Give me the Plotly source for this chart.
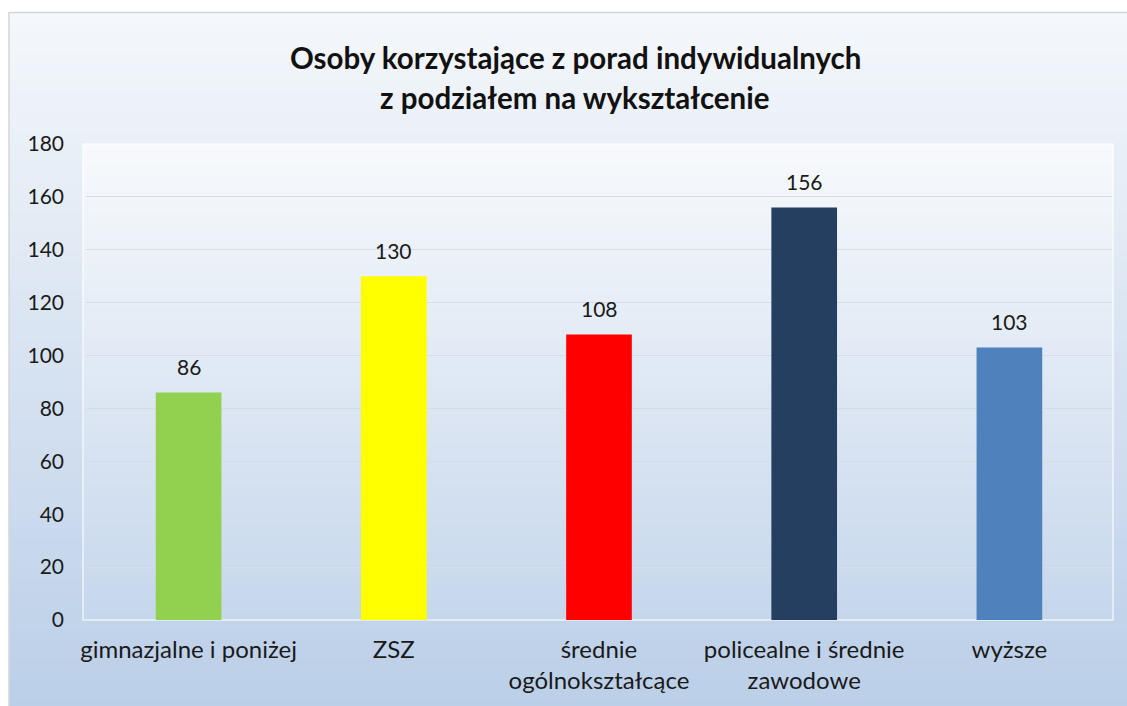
import plotly.graph_objects as go

# ---- data ----
categories = ["gimnazjalne i poniżej", "ZSZ", "średnie ogólnokształcące",
              "policealne i średnie zawodowe", "wyższe"]
category_labels = ["gimnazjalne i poniżej", "ZSZ", "średnie<br>ogólnokształcące",
                   "policealne i średnie<br>zawodowe", "wyższe"]
values = [86, 130, 108, 156, 103]
bar_colors = ["#92D050", "#FFFF00", "#FF0000", "#253F60", "#4F81BD"]
y_ticks = [0, 20, 40, 60, 80, 100, 120, 140, 160, 180]
title_lines = ["Osoby korzystające z porad indywidualnych",
               "z podziałem na wykształcenie"]

# ---- layout geometry (pixels) ----
W, H = 1127, 706
L, R, T, B = 86, 1112, 144, 622
PW, PH = R - L, B - T
FONT = "Lato"
TXT = "#1a1a1a"


def px_x(x):
    return (x - L) / PW


def px_y(y):
    return (B - y) / PH


def mix(c1, c2, t):
    return "rgb(%d,%d,%d)" % tuple(round(a + (b - a) * t) for a, b in zip(c1, c2))


def gradient(x0, x1, y0, y1, ctop, cbot, n=70):
    out = []
    for i in range(n):
        ya = y0 + (y1 - y0) * i / n
        yb = y0 + (y1 - y0) * (i + 1) / n + 1
        out.append(dict(type="rect", xref="paper", yref="paper",
                        x0=px_x(x0), x1=px_x(x1), y0=px_y(ya), y1=px_y(min(yb, y1)),
                        fillcolor=mix(ctop, cbot, i / (n - 1)),
                        line=dict(width=0), layer="below"))
    return out


shapes = []
# outer chart area gradient
shapes += gradient(9, W + 5, 12, H + 5, (244, 247, 251), (187, 207, 232))
shapes.append(dict(type="rect", xref="paper", yref="paper",
                   x0=px_x(9), x1=px_x(W + 5), y0=px_y(12), y1=px_y(H + 5),
                   line=dict(color="#D4D6D9", width=1.5), fillcolor="rgba(0,0,0,0)",
                   layer="below"))
# plot area gradient
shapes += gradient(83, R + 1, T, B, (247, 249, 252), (198, 215, 236))
shapes.append(dict(type="rect", xref="paper", yref="paper",
                   x0=px_x(83), x1=px_x(R + 1), y0=0, y1=1,
                   line=dict(color="rgba(255,255,255,0.7)", width=1.5),
                   fillcolor="rgba(0,0,0,0)", layer="below"))

fig = go.Figure()
fig.add_trace(go.Bar(
    x=categories, y=values,
    marker=dict(color=bar_colors, line=dict(width=0)),
    width=0.32, hoverinfo="x+y",
))

annotations = []
for c, v in zip(categories, values):
    annotations.append(dict(x=c, y=v, xref="x", yref="y", text=str(v),
                            showarrow=False, yshift=26,
                            font=dict(family=FONT, size=21, color=TXT)))
title_y = [57, 97]
for line, yy in zip(title_lines, title_y):
    annotations.append(dict(x=px_x(575), xref="paper", xanchor="center",
                            y=px_y(yy), yref="paper", yanchor="middle",
                            text="<b>%s</b>" % line, showarrow=False,
                            font=dict(family=FONT, size=29.5, color="#111111")))

fig.update_layout(
    width=W, height=H,
    margin=dict(l=L, r=W - R, t=T, b=H - B, pad=0),
    paper_bgcolor="white",
    plot_bgcolor="rgba(0,0,0,0)",
    showlegend=False,
    shapes=shapes,
    annotations=annotations,
    font=dict(family=FONT, size=21, color=TXT),
    xaxis=dict(
        tickvals=categories, ticktext=category_labels,
        showgrid=False, zeroline=False, showline=False, ticks="",
        tickfont=dict(family=FONT, size=24, color=TXT),
        ticklabelstandoff=13,
    ),
    yaxis=dict(
        range=[0, 180], tickvals=y_ticks, showgrid=True,
        gridcolor="#D6DDE6", gridwidth=1,
        zeroline=False, showline=False, ticks="",
        tickfont=dict(family=FONT, size=21, color=TXT),
        ticklabelstandoff=21,
    ),
)

fig.write_html("out.html", config={"displayModeBar": False},
               post_script="document.body.style.margin='0';")
